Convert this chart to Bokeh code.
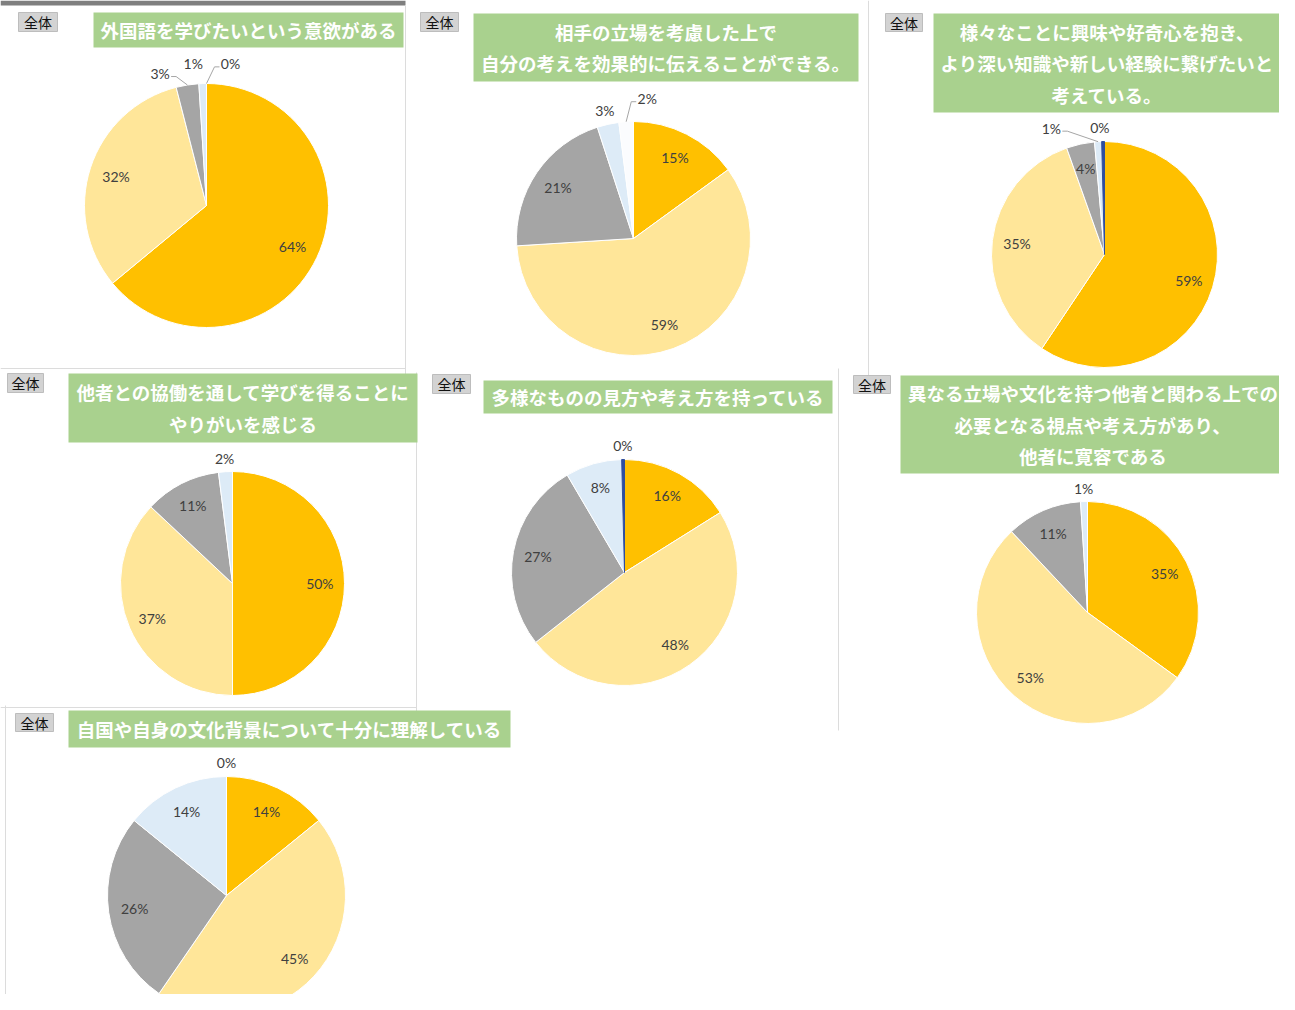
import math
from bokeh.plotting import figure
from bokeh.models import Range1d, ColumnDataSource
from bokeh.embed import file_html
from bokeh.resources import INLINE
from bokeh.core.properties import value

# ---------------- data ----------------
categories = ["とてもあてはまる", "ややあてはまる", "あまりあてはまらない", "まったくあてはまらない", "無回答"]
slice_colors = ["#FFC000", "#FFE699", "#A5A5A5", "#DDEBF7", "#2F4E9E"]

tag_text = "全体"

titles = [
    ["外国語を学びたいという意欲がある"],
    ["相手の立場を考慮した上で", "自分の考えを効果的に伝えることができる。"],
    ["様々なことに興味や好奇心を抱き、", "より深い知識や新しい経験に繋げたいと", "考えている。"],
    ["他者との協働を通して学びを得ることに", "やりがいを感じる"],
    ["多様なものの見方や考え方を持っている"],
    ["異なる立場や文化を持つ他者と関わる上での", "必要となる視点や考え方があり、", "他者に寛容である"],
    ["自国や自身の文化背景について十分に理解している"],
]

values_1 = [64, 32, 3, 1, 0]
values_2 = [15, 59, 21, 3, 2]
values_3 = [59, 35, 4, 1, 0.4]
values_4 = [50, 37, 11, 2]
values_5 = [16, 48, 27, 8, 0.4]
values_6 = [35, 53, 11, 1]
values_7 = [14, 45, 26, 14, 0]
all_values = [values_1, values_2, values_3, values_4, values_5, values_6, values_7]

# ---------------- layout (reference pixel coordinates, y downward) ----------------
W, H = 1279, 994
panels = [
    dict(c=(206, 205), r=122, tag=(18, 12, 57, 31), box=(93, 12, 403, 47)),
    dict(c=(633, 238), r=117, tag=(420, 12, 458, 31), box=(473, 13, 858, 81)),
    dict(c=(1104, 254), r=113, tag=(885, 13, 922, 31), box=(933, 13, 1280, 112)),
    dict(c=(232, 583), r=112, tag=(7, 373, 43, 392), box=(68, 373, 417, 442)),
    dict(c=(624, 572), r=113, tag=(432, 374, 470, 393), box=(483, 380, 832, 413)),
    dict(c=(1087, 612), r=111, tag=(853, 375, 890, 393), box=(900, 375, 1285, 473)),
    dict(c=(226, 895), r=119, tag=(15, 713, 53, 731), box=(68, 710, 510, 747)),
]
# label nudges for crowded outside labels: (panel, slice) -> (dx, dy)
nudges = {(0, 2): (-25, 3), (0, 3): (-9, -5), (0, 4): (24, -5),
          (1, 4): (22, -9), (2, 3): (-46, 0), (2, 4): (-3, 0)}
leaders = {(0, 2), (0, 4), (1, 4), (2, 3)}
color_override = {(1, 4): "#FBFCFE"}

def Y(y):
    return H - y

p = figure(width=W, height=H, x_range=Range1d(0, W), y_range=Range1d(0, H),
           output_backend="svg", toolbar_location=None, min_border=0,
           background_fill_color="white", border_fill_color="white")
p.axis.visible = False
p.grid.visible = False
p.outline_line_color = None

# dark banner at the very top left
p.quad(left=0, right=405, top=Y(0), bottom=Y(5), fill_color="#7F7F7F", line_color=None)

# panel separators
sep = dict(xs=[[405, 405], [868, 868], [416, 416], [838, 838], [0, 405], [0, 416], [5, 5]],
           ys=[[Y(5), Y(375)], [Y(0), Y(375)], [Y(372), Y(712)], [Y(368), Y(730)],
               [Y(368), Y(368)], [Y(707), Y(707)], [Y(705), Y(1010)]])
p.multi_line(xs=sep["xs"], ys=sep["ys"], line_color="#DCDCDC", line_width=1)

jp_font = value("Noto Sans CJK JP")

for pi, (pan, vals, tl) in enumerate(zip(panels, all_values, titles)):
    # tag box
    l, t, r_, b = pan["tag"]
    p.quad(left=l, right=r_, top=Y(t), bottom=Y(b), fill_color="#D3D3D3",
           line_color="#BDBDBD", line_width=1)
    p.text(x=[(l + r_) / 2], y=[Y((t + b) / 2)], text=[tag_text], text_font=jp_font,
           text_font_size="14px", text_color="#111111", text_align="center",
           text_baseline="middle")
    # title box
    l, t, r_, b = pan["box"]
    p.quad(left=l, right=r_, top=Y(t), bottom=Y(b), fill_color="#A9D18E", line_color=None)
    n = len(tl)
    cyb = (t + b) / 2
    ys = [Y(cyb + (i - (n - 1) / 2) * 31.5) for i in range(n)]
    p.text(x=[(l + r_) / 2] * n, y=ys, text=tl, text_font=jp_font, text_font_size="18.5px",
           text_font_style="bold", text_color="white", text_align="center",
           text_baseline="middle")

    # pie
    cx, cy = pan["c"]
    rad = pan["r"]
    total = float(sum(vals))
    cum = 0.0
    ws = dict(start=[], end=[], color=[], lcolor=[])
    lab = dict(x=[], y=[], text=[])
    lxs, lys = [], []
    for i, v in enumerate(vals):
        f0 = cum / total
        cum += v
        f1 = cum / total
        if v > 0:
            col = color_override.get((pi, i), slice_colors[i])
            ws["start"].append(math.pi / 2 - 2 * math.pi * f1)
            ws["end"].append(math.pi / 2 - 2 * math.pi * f0)
            ws["color"].append(col)
            ws["lcolor"].append(col if i == 4 and (pi, i) not in color_override else "white")
        mid = (f0 + f1) / 2 * 2 * math.pi
        frac = v / total
        k = 0.78 if frac >= 0.035 else 1.12
        dx, dy = nudges.get((pi, i), (0, 0))
        lx = cx + k * rad * math.sin(mid) + dx
        ly = cy - k * rad * math.cos(mid) + dy
        lab["x"].append(lx)
        lab["y"].append(Y(ly))
        lab["text"].append(f"{round(v)}%")
        if (pi, i) in leaders:
            px = cx + rad * math.sin(mid)
            py = cy - rad * math.cos(mid)
            side = 1 if px > lx else -1
            sx = lx + side * 11
            lxs.append([sx, sx + side * 5, px])
            lys.append([Y(ly + 3), Y(ly + 3), Y(py)])
    src = ColumnDataSource(ws)
    p.wedge(x=cx, y=Y(cy), radius=rad, start_angle="start", end_angle="end",
            direction="anticlock", fill_color="color", line_color="lcolor",
            line_width=1, source=src)
    if lxs:
        p.multi_line(xs=lxs, ys=lys, line_color="#A6A6A6", line_width=1)
    p.text(x="x", y="y", text="text", source=ColumnDataSource(lab),
           text_font=value("Lato"), text_font_size="14px", text_color="#404040",
           text_align="center", text_baseline="middle")

open("out.html", "w").write(file_html(p, INLINE))
